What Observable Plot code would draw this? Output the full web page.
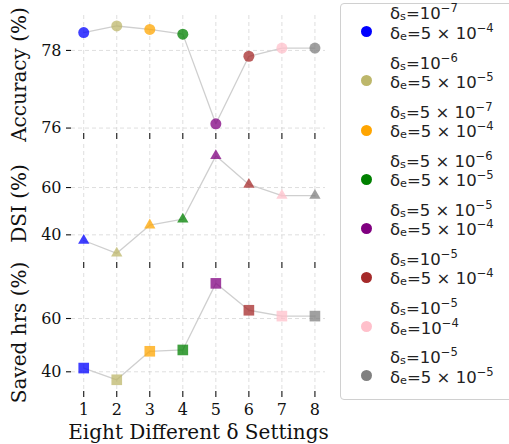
<!DOCTYPE html>
<html>
<head>
<meta charset="utf-8">
<script src="https://cdn.jsdelivr.net/npm/d3@7"></script>
<script src="https://cdn.jsdelivr.net/npm/@observablehq/plot@0.6"></script>
<style>
  html, body { margin: 0; padding: 0; background: #fff; }
  #wrap { position: relative; width: 509px; height: 444px; overflow: hidden; background: #fff; }
  .panel { position: absolute; left: 0; }
  #legend { position: absolute; left: 340px; top: 3px; width: 200px; height: 397px;
    border: 1px solid #d0d0d0; border-radius: 4px; background: #fff; box-sizing: border-box;
    font-family: "DejaVu Sans", sans-serif; font-size: 16.5px; color: #222; }
  .mk { position: absolute; left: 20.2px; width: 11px; height: 11px; border-radius: 50%; }
  .ln { position: absolute; left: 49px; line-height: 19.2px; height: 19.2px; white-space: nowrap; }
  .ln sub { font-size: 68%; vertical-align: -1px; line-height: 0; }
  .ln sup { font-size: 70%; vertical-align: 7px; line-height: 0; }
</style>
</head>
<body>
<div id="wrap"><div id="legend"></div></div>
<script>
// ---- data ----
const settings = [1, 2, 3, 4, 5, 6, 7, 8];
const accuracy = [78.46, 78.63, 78.54, 78.42, 76.11, 77.85, 78.06, 78.06];
const dsi      = [37.6, 32.2, 44.1, 46.6, 73.4, 61.3, 56.6, 56.6];
const savedHrs = [41.4, 37.0, 47.7, 48.2, 73.2, 63.1, 60.9, 60.9];
const colors   = ["blue", "darkkhaki", "orange", "green", "purple", "brown", "pink", "gray"];
// delta labels: [mantissa, exponent]
const deltaS = [[null, -7], [null, -6], [5, -7], [5, -6], [5, -5], [null, -5], [null, -5], [null, -5]];
const deltaE = [[5, -4], [5, -5], [5, -4], [5, -5], [5, -4], [5, -4], [null, -4], [5, -5]];
const accTicks = [76, 78];
const dsiTicks = [40, 60];
const hrsTicks = [40, 60];

const wrap = document.getElementById("wrap");
const xDomain = [0.63, 8.32];

function panel({values, symbol, r, yDomain, yTicks, yLabel, top, bottomAxis}) {
  const rows = settings.map((s, i) => ({s, v: values[i], c: colors[i]}));
  const marginBottom = bottomAxis ? 53 : 10;
  const svg = Plot.plot({
    width: 340,
    height: 10 + 118 + marginBottom,
    marginLeft: 71, marginRight: 15, marginTop: 10, marginBottom,
    style: {fontFamily: "DejaVu Serif", fontSize: "16px", background: "transparent", color: "#111", overflow: "visible"},
    x: {domain: xDomain},
    y: {domain: yDomain},
    marks: [
      Plot.gridX(settings, {stroke: "#bbb", strokeOpacity: 0.55, strokeDasharray: "4,3", strokeWidth: 0.9}),
      Plot.gridY(yTicks, {stroke: "#bbb", strokeOpacity: 0.55, strokeDasharray: "4,3", strokeWidth: 0.9}),
      Plot.axisY(yTicks, {tickSize: 5, tickPadding: 5, strokeWidth: 1.1, fontSize: 16,
        label: yLabel, labelAnchor: "center", labelOffset: 60, labelArrow: "none"}),
      bottomAxis
        ? Plot.axisX(settings, {tickSize: 6, tickPadding: 6, strokeWidth: 1.1, fontSize: 16,
            label: "Eight Different δ Settings", labelAnchor: "center", labelOffset: 47, labelArrow: "none"})
        : Plot.axisX(settings, {tickSize: 6, strokeWidth: 1.1, tickFormat: () => "", label: null}),
      Plot.line(rows, {x: "s", y: "v", stroke: "#cfcfcf", strokeWidth: 1.3}),
      Plot.dot(rows, {x: "s", y: "v", fill: "c", fillOpacity: 0.75, symbol: () => symbol, r})
    ]
  });
  svg.classList.add("panel");
  svg.style.top = (top - 10) + "px";
  wrap.appendChild(svg);
  return svg;
}

panel({values: accuracy, symbol: "circle", r: 5.5, yDomain: [75.86, 78.90], yTicks: accTicks, yLabel: "Accuracy (%)", top: 15});
panel({values: dsi, symbol: "triangle", r: 4.2, yDomain: [28.3, 78.2], yTicks: dsiTicks, yLabel: "DSI (%)", top: 144});
panel({values: savedHrs, symbol: "square", r: 6.0, yDomain: [32.6, 76.9], yTicks: hrsTicks, yLabel: "Saved hrs (%)", top: 273, bottomAxis: true});

// enlarge axis labels
wrap.querySelectorAll("svg [aria-label='y-axis label'] text, svg [aria-label='x-axis label'] text").forEach(t => {
  t.setAttribute("font-size", "20px");
  t.style.fontSize = "20px";
});

// ---- legend ----
function fmt([m, e]) {
  const pow = `10<sup>−${-e}</sup>`;
  return m == null ? pow : `${m} × ${pow}`;
}
const legend = document.getElementById("legend");
colors.forEach((c, i) => {
  const cy = 27.7 + i * 49.15;
  const mk = document.createElement("div");
  mk.className = "mk";
  mk.style.background = c;
  mk.style.top = (cy - 5.5) + "px";
  legend.appendChild(mk);
  [["s", deltaS[i], cy - 27.3], ["e", deltaE[i], cy - 8.1]].forEach(([sub, val, t]) => {
    const ln = document.createElement("div");
    ln.className = "ln";
    ln.style.top = t + "px";
    ln.innerHTML = `δ<sub>${sub}</sub>=${fmt(val)}`;
    legend.appendChild(ln);
  });
});
</script>
</body>
</html>
